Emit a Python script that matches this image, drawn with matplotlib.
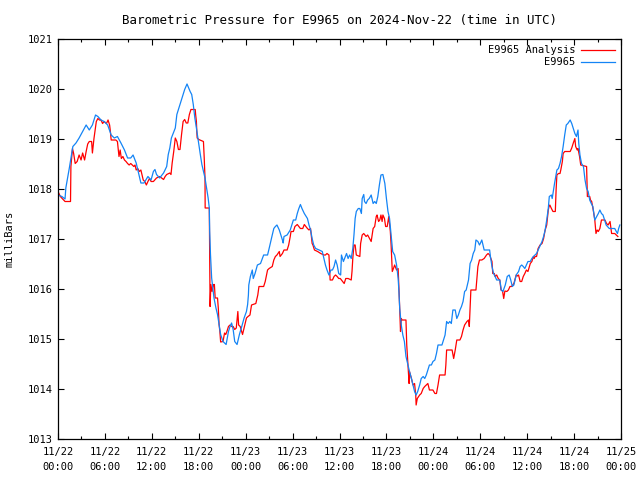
import matplotlib
matplotlib.use('Agg')
import matplotlib.pyplot as plt
import numpy as np

# hours since 2024-11-22 00:00 UTC and pressure in mbar
obs_hours = [
    0.0, 0.5, 0.9, 1.0, 1.45, 1.9, 2.3, 2.7, 3.15, 3.6, 4.0, 4.4, 4.8, 5.1, 5.5, 5.9,
    6.35, 6.8, 7.2, 7.6, 8.05, 8.5, 8.9, 9.3, 9.6, 10.0, 10.4, 10.6, 11.0, 11.5, 11.9,
    12.2, 12.4, 12.6, 13.0, 13.5, 13.9, 14.1, 14.3, 14.5, 15.0, 15.2, 15.6, 16.0, 16.2,
    16.5, 16.9, 17.1, 17.3, 17.5, 17.7, 17.95, 18.2, 18.4, 18.6, 18.8, 19.0, 19.2, 19.35,
    19.4, 19.5, 19.65, 19.8, 19.95, 20.2, 20.4, 20.6, 20.8, 21.1, 21.5, 21.8, 22.0, 22.2,
    22.4, 22.6, 22.9, 23.2, 23.5, 23.8, 24.1, 24.25, 24.35, 24.4, 24.6, 24.85, 24.97,
    25.2, 25.5, 25.9, 26.3, 26.8, 27.0, 27.2, 27.4, 27.6, 27.8, 28.0, 28.3, 28.5, 28.7,
    28.8, 28.9, 29.3, 29.7, 30.1, 30.4, 30.6, 30.8, 31.0, 31.2, 31.5, 31.9, 32.1, 32.3,
    32.5, 32.7, 32.95, 33.4, 33.8, 34.0, 34.2, 34.4, 34.65, 34.9, 35.1, 35.3, 35.5, 35.7,
    35.9, 36.15, 36.25, 36.5, 36.9, 37.1, 37.3, 37.5, 37.7, 37.85, 38.0, 38.15, 38.4,
    38.6, 38.8, 38.9, 39.1, 39.2, 39.4, 39.6, 39.8, 40.05, 40.3, 40.5, 40.7, 40.9, 41.1,
    41.3, 41.55, 41.8, 42.0, 42.2, 42.4, 42.6, 42.8, 43.05, 43.3, 43.5, 43.6, 43.7, 43.9,
    44.1, 44.3, 44.5, 44.75, 44.95, 45.2, 45.4, 45.6, 45.8, 46.0, 46.25, 46.45, 46.7,
    46.9, 47.1, 47.3, 47.5, 47.75, 47.95, 48.2, 48.4, 48.6, 49.1, 49.3, 49.5, 49.7, 49.9,
    50.1, 50.3, 50.5, 50.8, 51.0, 51.2, 51.4, 51.6, 51.8, 52.0, 52.2, 52.5, 52.7, 52.9,
    53.1, 53.3, 53.45, 53.7, 53.9, 54.0, 54.2, 54.4, 54.5, 55.2, 55.3, 55.5, 55.7, 55.9,
    56.1, 56.5, 56.7, 56.9, 57.2, 57.45, 57.7, 57.9, 58.1, 58.3, 58.6, 58.9, 59.1, 59.3,
    59.5, 59.7, 59.9, 60.1, 60.4, 60.6, 60.8, 61.0, 61.2, 61.4, 61.7, 61.9, 62.1, 62.3,
    62.5, 62.7, 62.83, 63.1, 63.2, 63.3, 63.5, 63.8, 64.0, 64.2, 64.4, 64.6, 64.8, 65.0,
    65.2, 65.5, 65.7, 65.9, 66.1, 66.3, 66.5, 66.6, 66.75, 66.95, 67.2, 67.4, 67.6, 67.8,
    68.0, 68.2, 68.4, 68.65, 68.9, 69.1, 69.3, 69.5, 69.7, 69.9, 70.1, 70.5, 71.2, 71.4,
    71.55, 71.7, 71.85]
obs_mbar = [
    1017.88, 1017.85, 1017.80, 1018.02, 1018.42, 1018.85, 1018.92, 1019.02, 1019.15,
    1019.28, 1019.18, 1019.28, 1019.48, 1019.45, 1019.38, 1019.35, 1019.28, 1019.08,
    1019.02, 1019.05, 1018.92, 1018.78, 1018.62, 1018.62, 1018.68, 1018.52, 1018.25,
    1018.12, 1018.12, 1018.25, 1018.18, 1018.35, 1018.39, 1018.29, 1018.22, 1018.32,
    1018.45, 1018.69, 1018.82, 1019.02, 1019.22, 1019.49, 1019.69, 1019.89, 1019.99,
    1020.10, 1019.95, 1019.89, 1019.69, 1019.42, 1019.22, 1018.95, 1018.69, 1018.49,
    1018.35, 1018.22, 1018.02, 1017.82, 1017.62, 1017.15, 1016.69, 1016.22, 1016.02,
    1015.82, 1015.62, 1015.49, 1015.29, 1015.09, 1014.95, 1014.89, 1015.15, 1015.25,
    1015.32, 1015.19, 1014.95, 1014.89, 1015.09, 1015.25, 1015.42, 1015.55, 1015.69,
    1015.88, 1016.08, 1016.25, 1016.38, 1016.21, 1016.31, 1016.48, 1016.51, 1016.68,
    1016.68, 1016.81, 1016.95, 1017.08, 1017.21, 1017.25, 1017.28, 1017.18, 1017.08,
    1016.98, 1016.92, 1017.05, 1017.08, 1017.18, 1017.38, 1017.38, 1017.51, 1017.61,
    1017.69, 1017.61, 1017.51, 1017.41, 1017.28, 1017.18, 1017.01, 1016.88, 1016.81,
    1016.78, 1016.75, 1016.61, 1016.48, 1016.38, 1016.28, 1016.38, 1016.38, 1016.45,
    1016.58, 1016.48, 1016.31, 1016.28, 1016.68, 1016.55, 1016.71, 1016.61, 1016.68,
    1016.61, 1016.81, 1017.08, 1017.41, 1017.55, 1017.61, 1017.61, 1017.51, 1017.81,
    1017.89, 1017.75, 1017.71, 1017.78, 1017.81, 1017.88, 1017.71, 1017.75, 1017.71,
    1017.85, 1018.08, 1018.28, 1018.29, 1018.11, 1017.81, 1017.55, 1017.41, 1017.08,
    1016.75, 1016.68, 1016.48, 1016.21, 1015.95, 1015.61, 1015.28, 1015.08, 1014.95,
    1014.65, 1014.48, 1014.35, 1014.21, 1014.08, 1013.95, 1013.88, 1013.95, 1014.08,
    1014.21, 1014.25, 1014.21, 1014.28, 1014.38, 1014.48, 1014.48, 1014.55, 1014.58,
    1014.71, 1014.88, 1014.88, 1014.98, 1015.08, 1015.35, 1015.31, 1015.35, 1015.31,
    1015.58, 1015.58, 1015.41, 1015.48, 1015.58, 1015.65, 1015.75, 1015.95, 1015.98,
    1016.18, 1016.51, 1016.58, 1016.71, 1016.78, 1016.98, 1016.95, 1016.88, 1016.91,
    1016.98, 1016.85, 1016.78, 1016.78, 1016.65, 1016.45, 1016.31, 1016.25, 1016.18,
    1016.18, 1015.98, 1015.95, 1016.08, 1016.25, 1016.28, 1016.18, 1016.05, 1016.08,
    1016.28, 1016.35, 1016.45, 1016.48, 1016.45, 1016.41, 1016.48, 1016.55, 1016.55,
    1016.61, 1016.65, 1016.68, 1016.71, 1016.78, 1016.88, 1016.95, 1017.05, 1017.18,
    1017.38, 1017.61, 1017.85, 1017.88, 1017.81, 1017.91, 1018.11, 1018.38, 1018.41,
    1018.51, 1018.65, 1018.85, 1019.08, 1019.28, 1019.31, 1019.38, 1019.31, 1019.21,
    1019.11, 1019.05, 1019.18, 1018.91, 1018.68, 1018.51, 1018.45, 1018.18, 1018.01,
    1017.95, 1017.78, 1017.71, 1017.65, 1017.38, 1017.45, 1017.51, 1017.58, 1017.51,
    1017.48, 1017.38, 1017.28, 1017.21, 1017.21, 1017.15, 1017.11, 1017.21, 1017.28]

ana_hours = [
    0.0, 0.3, 0.9, 1.6, 1.65, 1.85, 2.0, 2.2, 2.45, 2.7, 2.95, 3.15, 3.4, 3.6, 3.8, 4.0,
    4.3, 4.4, 4.6, 4.9, 5.1, 5.3, 5.5, 5.7, 5.9, 6.2, 6.4, 6.6, 6.7, 6.8, 7.4, 7.6, 7.8,
    7.95, 8.1, 8.3, 8.5, 8.7, 8.9, 9.1, 9.3, 9.7, 9.85, 10.0, 10.2, 10.4, 10.6, 10.9,
    11.1, 11.3, 11.5, 11.7, 11.9, 12.2, 12.6, 13.0, 13.5, 13.7, 13.9, 14.3, 14.45, 14.6,
    14.8, 15.0, 15.2, 15.4, 15.6, 15.8, 16.0, 16.2, 16.4, 16.6, 16.8, 17.0, 17.55, 17.6,
    17.7, 17.75, 17.8, 18.0, 18.6, 18.7, 18.8, 18.82, 19.35, 19.4, 19.45, 19.55, 19.7,
    19.9, 20.0, 20.1, 20.4, 20.5, 20.6, 20.7, 20.8, 21.1, 21.3, 21.45, 21.6, 21.8, 22.0,
    22.2, 22.4, 22.6, 22.8, 23.0, 23.1, 23.3, 23.6, 23.9, 24.1, 24.3, 24.55, 24.75, 25.3,
    25.55, 25.7, 26.3, 26.5, 26.8, 27.0, 27.4, 27.6, 27.8, 28.0, 28.3, 28.4, 28.7, 28.9,
    29.3, 29.5, 29.7, 29.8, 30.1, 30.3, 30.6, 30.8, 31.0, 31.3, 31.5, 31.7, 31.9, 32.1,
    32.3, 32.5, 32.6, 32.8, 33.2, 33.6, 34.0, 34.2, 34.4, 34.65, 34.8, 35.1, 35.3, 35.5,
    35.7, 35.9, 36.1, 36.6, 36.8, 37.1, 37.5, 37.6, 37.7, 37.85, 38.0, 38.15, 38.6, 38.7,
    38.9, 39.1, 39.4, 39.6, 39.85, 40.05, 40.3, 40.5, 40.7, 40.8, 41.0, 41.15, 41.3,
    41.45, 41.55, 41.75, 41.9, 42.1, 42.3, 42.4, 42.5, 42.6, 42.75, 42.9, 43.05, 43.3,
    43.5, 43.6, 43.7, 43.8, 43.9, 44.0, 44.5, 44.6, 44.75, 44.9, 44.95, 45.2, 45.4, 45.6,
    45.75, 45.8, 45.95, 46.25, 46.45, 46.7, 46.9, 47.1, 47.3, 47.5, 47.95, 48.2, 48.4,
    48.6, 48.8, 49.5, 49.6, 49.7, 50.4, 50.6, 50.8, 51.0, 51.4, 51.6, 51.8, 52.0, 52.3,
    52.5, 52.6, 52.7, 52.8, 53.45, 53.7, 53.9, 54.2, 54.5, 54.8, 55.0, 55.2, 55.5, 55.6,
    55.8, 55.9, 56.1, 56.3, 56.5, 56.65, 56.85, 57.0, 57.15, 57.4, 57.6, 57.8, 58.0,
    58.3, 58.6, 58.75, 58.9, 59.1, 59.3, 59.5, 59.7, 59.9, 60.1, 60.4, 60.6, 60.8, 60.9,
    61.0, 61.2, 61.4, 61.65, 61.9, 62.1, 62.3, 62.5, 62.7, 62.8, 62.9, 63.1, 63.3, 63.6,
    63.7, 63.8, 64.0, 64.2, 64.3, 64.5, 64.6, 64.8, 65.5, 65.7, 65.9, 66.1, 66.2, 66.4,
    66.5, 66.7, 66.85, 67.6, 67.7, 68.0, 68.1, 68.25, 68.45, 68.65, 68.8, 68.95, 69.1,
    69.3, 69.5, 69.95, 70.15, 70.35, 70.6, 70.8, 71.2, 71.4, 71.6]
ana_mbar = [
    1017.95, 1017.85, 1017.75, 1017.75, 1018.45, 1018.81, 1018.71, 1018.51, 1018.55,
    1018.68, 1018.58, 1018.72, 1018.58, 1018.75, 1018.90, 1018.95, 1018.95, 1018.72,
    1019.01, 1019.35, 1019.41, 1019.38, 1019.38, 1019.31, 1019.35, 1019.31, 1019.38,
    1019.28, 1019.15, 1018.98, 1018.98, 1018.95, 1018.65, 1018.78, 1018.61, 1018.65,
    1018.58, 1018.55, 1018.51, 1018.48, 1018.51, 1018.45, 1018.48, 1018.38, 1018.41,
    1018.35, 1018.38, 1018.18, 1018.15, 1018.08, 1018.15, 1018.21, 1018.15, 1018.15,
    1018.22, 1018.25, 1018.19, 1018.25, 1018.29, 1018.32, 1018.29, 1018.52, 1018.75,
    1019.02, 1018.95, 1018.79, 1018.79, 1019.09, 1019.35, 1019.39, 1019.32, 1019.32,
    1019.49, 1019.59, 1019.59, 1019.49, 1019.35, 1019.15, 1019.02, 1018.99, 1018.95,
    1018.62, 1018.22, 1017.62, 1017.62, 1016.69, 1015.65, 1016.09, 1015.95, 1016.09,
    1016.09, 1015.82, 1015.82, 1015.62, 1015.29, 1015.15, 1014.94, 1014.95, 1015.12,
    1015.09, 1015.15, 1015.25, 1015.28, 1015.25, 1015.25, 1015.19, 1015.22, 1015.55,
    1015.28, 1015.25, 1015.09, 1015.29, 1015.42, 1015.45, 1015.48, 1015.68, 1015.71,
    1015.88, 1016.05, 1016.05, 1016.15, 1016.38, 1016.41, 1016.45, 1016.58, 1016.65,
    1016.68, 1016.75, 1016.65, 1016.71, 1016.78, 1016.78, 1016.88, 1017.05, 1017.15,
    1017.15, 1017.25, 1017.29, 1017.25, 1017.21, 1017.21, 1017.29, 1017.25, 1017.21,
    1017.18, 1017.21, 1016.91, 1016.88, 1016.78, 1016.75, 1016.71, 1016.68, 1016.68,
    1016.71, 1016.68, 1016.18, 1016.18, 1016.25, 1016.28, 1016.25, 1016.21, 1016.21,
    1016.11, 1016.21, 1016.21, 1016.18, 1016.35, 1016.61, 1016.88, 1016.88, 1016.68,
    1016.65, 1016.91, 1017.08, 1017.11, 1017.05, 1017.08, 1017.01, 1016.95, 1017.21,
    1017.25, 1017.45, 1017.48, 1017.35, 1017.38, 1017.48, 1017.35, 1017.48, 1017.41,
    1017.25, 1017.25, 1017.45, 1017.31, 1017.15, 1016.88, 1016.35, 1016.41, 1016.48,
    1016.38, 1016.41, 1016.01, 1015.61, 1015.15, 1015.41, 1015.38, 1015.38, 1014.88,
    1014.48, 1014.11, 1014.35, 1014.21, 1014.08, 1014.11, 1013.88, 1013.68, 1013.81,
    1013.88, 1013.91, 1014.01, 1014.05, 1014.08, 1014.11, 1013.98, 1013.98, 1013.91,
    1013.91, 1014.08, 1014.28, 1014.28, 1014.48, 1014.78, 1014.78, 1014.61, 1014.78,
    1014.98, 1014.98, 1015.05, 1015.18, 1015.28, 1015.35, 1015.38, 1015.25, 1015.61,
    1015.98, 1015.98, 1016.45, 1016.58, 1016.58, 1016.61, 1016.68, 1016.71, 1016.68,
    1016.55, 1016.31, 1016.31, 1016.25, 1016.28, 1016.21, 1016.18, 1015.98, 1015.96,
    1015.81, 1015.96, 1015.95, 1015.98, 1016.05, 1016.05, 1016.11, 1016.28, 1016.26,
    1016.28, 1016.15, 1016.15, 1016.25, 1016.31, 1016.38, 1016.35, 1016.51, 1016.55,
    1016.65, 1016.61, 1016.65, 1016.65, 1016.81, 1016.88, 1016.91, 1017.01, 1017.18,
    1017.28, 1017.58, 1017.65, 1017.68, 1017.61, 1017.55, 1017.55, 1017.98, 1018.28,
    1018.31, 1018.31, 1018.38, 1018.55, 1018.71, 1018.75, 1018.75, 1018.82, 1018.92,
    1019.01, 1018.85, 1018.78, 1018.81, 1018.65, 1018.48, 1018.45, 1017.85, 1017.85,
    1017.78, 1017.75, 1017.58, 1017.38, 1017.11, 1017.18, 1017.15, 1017.21, 1017.38,
    1017.38, 1017.31, 1017.28, 1017.35, 1017.11, 1017.11, 1017.08, 1017.05]

tick_hours = list(range(0, 73, 6))
tick_labels = ['11/22\n00:00', '11/22\n06:00', '11/22\n12:00', '11/22\n18:00',
               '11/23\n00:00', '11/23\n06:00', '11/23\n12:00', '11/23\n18:00',
               '11/24\n00:00', '11/24\n06:00', '11/24\n12:00', '11/24\n18:00',
               '11/25\n00:00']

plt.rcParams['font.family'] = 'DejaVu Sans Mono'
plt.rcParams['font.size'] = 7.5

fig = plt.figure(figsize=(6.4, 4.8), dpi=100)
ax = fig.add_axes([58 / 640, 41 / 480, 563 / 640, 400 / 480])

ax.plot(ana_hours, ana_mbar, color='#ff0000', lw=0.9, label='E9965 Analysis')
ax.plot(obs_hours, obs_mbar, color='#1484f5', lw=0.9, label='E9965')

ax.set_xlim(0, 72)
ax.set_ylim(1013, 1021)
ax.set_xticks(tick_hours)
ax.set_xticklabels(tick_labels, linespacing=1.6)
ax.set_xticks(np.arange(0, 73, 3), minor=True)
ax.set_yticks(np.arange(1013, 1022, 1))
ax.tick_params(which='both', direction='in', top=True, right=True, width=0.8)
ax.tick_params(which='major', length=4, pad=4)
ax.tick_params(which='minor', length=2.5)
ax.tick_params(axis='x', which='major', pad=6)
for s in ax.spines.values():
    s.set_linewidth(0.9)

ax.set_title('Barometric Pressure for E9965 on 2024-Nov-22 (time in UTC)', pad=11)
ax.set_ylabel('milliBars', labelpad=9)

ax.legend(loc='upper right', frameon=False, markerfirst=False,
          handlelength=3.2, handletextpad=0.6, labelspacing=0.2,
          borderaxespad=0.2)

fig.savefig('out.png', dpi=100)
